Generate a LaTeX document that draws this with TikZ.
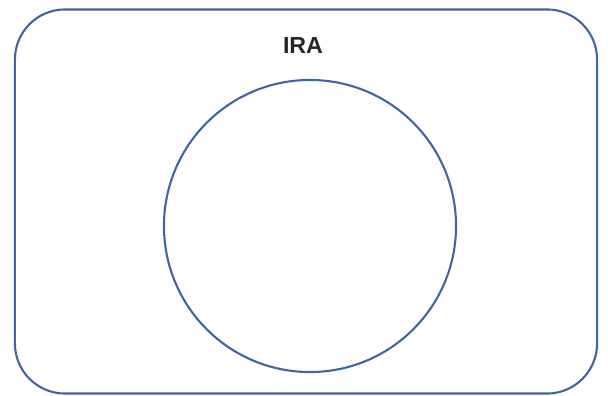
\documentclass[tikz,border=0pt]{standalone}
\usepackage{fontspec}
\setmainfont{Liberation Sans}
\usepackage{tikz}
\usetikzlibrary{positioning}
\definecolor{setblue}{RGB}{66, 100, 166}
\tikzset{
    setline/.style={draw=setblue, line width=1.5pt},
    setlabel/.style={font=\bfseries\fontsize{16.5}{20}\selectfont, text=black!85}
}

\begin{document}
\begin{tikzpicture}[x=0.025cm, y=-0.025cm]
    \useasboundingbox (0,0) rectangle (608,396);
    % --- UNIVERSE: IRA ---
    \node[setline, rectangle, rounded corners=1.25cm, minimum width=14.55cm, minimum height=9.6cm, inner sep=0pt] (ira) at (306,201.5) {};
    \node[setlabel] (iralabel) at (303,46) {IRA};

    % --- INNER SET ---
    \node[setline, circle, minimum size=7.3cm, inner sep=0pt] (inner) at (310,226) {};
\end{tikzpicture}
\end{document}
